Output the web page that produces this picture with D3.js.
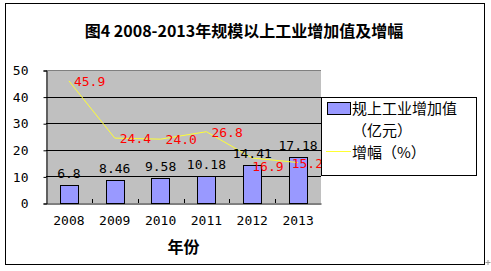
<!DOCTYPE html>
<html>
<head>
<meta charset="utf-8">
<script src="https://cdn.jsdelivr.net/npm/d3@7"></script>
<style>
  body { margin: 0; background: #fff; }
  svg text { fill: #000; }
</style>
</head>
<body>
<div class="chart"></div>
<script>
// chart data
var years = ["2008", "2009", "2010", "2011", "2012", "2013"];
var addedValue = [6.8, 8.46, 9.58, 10.18, 14.41, 17.18];   // 亿元
var growth = [45.9, 24.4, 24.0, 26.8, 16.9, 15.2];         // %
var yTicks = [0, 10, 20, 30, 40, 50];
var barLabels = ["6.8", "8.46", "9.58", "10.18", "14.41", "17.18"];
var lineLabels = ["45.9", "24.4", "24.0", "26.8", "16.9", "15.2"];

var svgWidth = 491;
var svgHeight = 271;

var plot = { left: 46, right: 321, top: 70, bottom: 203 };
var monoFont = "'DejaVu Sans Mono', monospace";
var cjkFont = "'Noto Sans CJK SC', sans-serif";

var svg = d3.select(".chart")
  .append("svg")
  .attr("width", svgWidth)
  .attr("height", svgHeight);

// outer frame
svg.append("rect")
  .attr("x", 5.5).attr("y", 3.5)
  .attr("width", 479).attr("height", 261)
  .attr("fill", "#fff")
  .attr("stroke", "#000");

// little anchor mark at the corner
svg.append("path")
  .attr("d", "M485.5,262.5h5M488,260v5")
  .attr("stroke", "#999");

// title
svg.append("text")
  .attr("x", 244).attr("y", 37)
  .attr("text-anchor", "middle")
  .style("font-family", cjkFont)
  .style("font-weight", "bold")
  .style("font-size", "16px")
  .text("图4 2008-2013年规模以上工业增加值及增幅");

var x = d3.scaleBand()
  .domain(years)
  .range([plot.left, plot.right]);

var y = d3.scaleLinear()
  .domain([0, 50])
  .range([plot.bottom, plot.top]);

var cx = (d, i) => x(years[i]) + x.bandwidth() / 2;

// plot area
svg.append("rect")
  .attr("x", plot.left).attr("y", plot.top)
  .attr("width", plot.right - plot.left)
  .attr("height", plot.bottom - plot.top)
  .attr("fill", "#c0c0c0");

svg.append("line")
  .attr("x1", plot.left).attr("x2", plot.right)
  .attr("y1", y(50) + 0.5).attr("y2", y(50) + 0.5)
  .attr("stroke", "#808080");

svg.selectAll("line.grid")
  .data(yTicks.filter(d => d > 0 && d < 50))
  .enter()
  .append("line")
  .attr("class", "grid")
  .attr("x1", plot.left).attr("x2", plot.right)
  .attr("y1", d => Math.round(y(d)) + 0.5)
  .attr("y2", d => Math.round(y(d)) + 0.5)
  .attr("stroke", "#000");

// bars
var bw = x.bandwidth() * 0.4;
svg.selectAll("rect.bar")
  .data(addedValue)
  .enter()
  .append("rect")
  .attr("class", "bar")
  .attr("x", (d, i) => Math.round(x(years[i]) + (x.bandwidth() - bw) / 2) + 0.5)
  .attr("y", d => Math.round(y(d)) + 0.5)
  .attr("width", Math.round(bw))
  .attr("height", d => Math.round(y(0)) - Math.round(y(d)))
  .attr("fill", "#9999ff")
  .attr("stroke", "#000");

// axes
var leftAxis = d3.axisLeft(y)
  .tickValues(yTicks)
  .tickSize(3)
  .tickPadding(15);

var yAxis = svg.append("g")
  .attr("transform", `translate(${plot.left + 0.5}, 0.5)`)
  .call(leftAxis);
yAxis.select(".domain").attr("stroke", "#000");
yAxis.selectAll("text")
  .style("font-family", monoFont)
  .style("font-size", "13px")
  .attr("fill", "#000");

var bottomAxis = d3.axisBottom(x).tickSize(0).tickPadding(12);
var xAxis = svg.append("g")
  .attr("transform", `translate(0, ${plot.bottom + 0.5})`)
  .call(bottomAxis);
xAxis.select(".domain").attr("stroke", "#000");
xAxis.selectAll("text")
  .style("font-family", monoFont)
  .style("font-size", "13px")
  .attr("fill", "#000");

// category separators (inside ticks)
svg.selectAll("line.sep")
  .data(years.slice(1))
  .enter()
  .append("line")
  .attr("class", "sep")
  .attr("x1", d => Math.round(x(d)) + 0.5)
  .attr("x2", d => Math.round(x(d)) + 0.5)
  .attr("y1", plot.bottom)
  .attr("y2", plot.bottom - 4)
  .attr("stroke", "#000");

// growth line
var line = d3.line()
  .x(cx)
  .y(d => y(d));

svg.append("path")
  .datum(growth)
  .attr("d", line)
  .attr("fill", "none")
  .attr("stroke", "#ffff33")
  .attr("stroke-width", 1);

// bar value labels
var barLabelY = d => y(d) - 7;
svg.selectAll("text.barLabel")
  .data(addedValue)
  .enter()
  .append("text")
  .attr("class", "barLabel")
  .attr("x", cx)
  .attr("y", barLabelY)
  .attr("text-anchor", "middle")
  .style("font-family", monoFont)
  .style("font-size", "13px")
  .text((d, i) => barLabels[i]);

// growth value labels: right of the point, pushed below the bar label
// when they would collide, pulled back in at the plot's right edge
var collides = (d, i) => Math.abs(y(d) + 5 - barLabelY(addedValue[i])) < 12;
svg.selectAll("text.lineLabel")
  .data(growth)
  .enter()
  .append("text")
  .attr("class", "lineLabel")
  .attr("y", (d, i) => collides(d, i) ? barLabelY(addedValue[i]) + 13 : y(d) + 5)
  .style("font-family", monoFont)
  .style("font-size", "13px")
  .style("fill", "#ff0000")
  .text((d, i) => lineLabels[i])
  .attr("x", function(d, i) {
    var lx = collides(d, i) ? cx(d, i) : cx(d, i) + 5;
    var w = this.getComputedTextLength();
    return Math.min(lx, plot.right - w + 2);
  });

// x axis title
svg.append("text")
  .attr("x", (plot.left + plot.right) / 2)
  .attr("y", 253)
  .attr("text-anchor", "middle")
  .style("font-family", cjkFont)
  .style("font-weight", "bold")
  .style("font-size", "16px")
  .text("年份");

// legend
var legend = svg.append("g").attr("transform", "translate(321, 97)");
legend.append("rect")
  .attr("x", 0.5).attr("y", 0.5)
  .attr("width", 155).attr("height", 78)
  .attr("fill", "#fff")
  .attr("stroke", "#000");
legend.append("rect")
  .attr("x", 6.5).attr("y", 5.5)
  .attr("width", 23).attr("height", 12)
  .attr("fill", "#9999ff")
  .attr("stroke", "#000");
legend.append("line")
  .attr("x1", 5).attr("x2", 30)
  .attr("y1", 54.5).attr("y2", 54.5)
  .attr("stroke", "#ffff33");

var legendText = legend.append("text")
  .style("font-family", cjkFont)
  .style("font-size", "15px");
legendText.append("tspan").attr("x", 31).attr("y", 17).text("规上工业增加值");
legendText.append("tspan").attr("x", 31).attr("y", 39).text("（亿元）");
legendText.append("tspan").attr("x", 31).attr("y", 61).text("增幅（%）");
</script>
</body>
</html>
